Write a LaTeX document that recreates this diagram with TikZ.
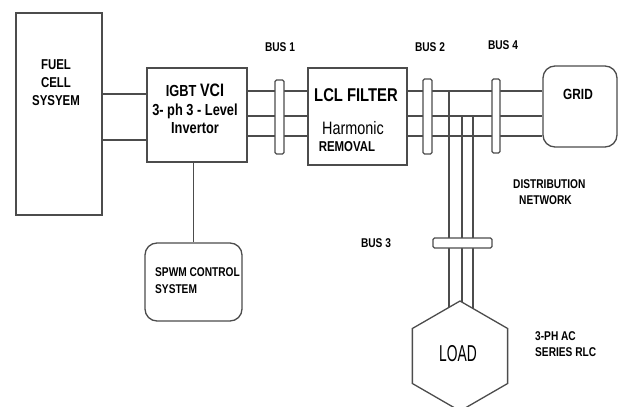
\documentclass[tikz,border=0pt]{standalone}
\usepackage{fontspec}
\setmainfont{Liberation Sans}[FakeStretch=0.8]
\newfontfamily\loadfont{Liberation Sans}[FakeStretch=0.6]
\usetikzlibrary{shapes.geometric,backgrounds}

\begin{document}
\begin{tikzpicture}[x=1pt, y=-1pt,
    box/.style={draw=black!70, line width=1.3pt, inner sep=0pt},
    rbox/.style={box, rounded corners=12pt},
    busbar/.style={draw=black!70, line width=1.1pt, fill=white, rounded corners=1.5pt, inner sep=0pt},
    wire/.style={draw=black!70, line width=1.2pt},
    lbl/.style={font=\bfseries\fontsize{12.7}{16}\selectfont, inner sep=0pt}]
            \useasboundingbox (0,0) rectangle (619,407);
            % blocks
            \node[box, minimum width=86pt, minimum height=202pt] (fuel) at (59,114) {};
            \node[align=center, font=\bfseries\fontsize{14.3}{18}\selectfont] (fueltxt) at (56,83) {FUEL\\CELL\\SYSYEM};
            \node[box, minimum width=100pt, minimum height=94pt] (igbt) at (197,115) {};
            \node[align=center, font=\bfseries\fontsize{16}{18.5}\selectfont] (igbttxt) at (195,109) {IGBT {\fontsize{18}{18.5}\selectfont VCI}\\3- ph 3 - Level\\Invertor};
            \node[box, minimum width=99pt, minimum height=97pt] (lcl) at (357.5,116.5) {};
            \node[font=\bfseries\fontsize{18.5}{20}\selectfont] (lcltxt) at (356,95) {LCL FILTER};
            \node[font=\fontsize{18}{20}\selectfont] (harm) at (353,128) {Harmonic};
            \node[font=\bfseries\fontsize{14.3}{16}\selectfont] (remov) at (347,147) {REMOVAL};
            \node[rbox, minimum width=74pt, minimum height=81pt] (grid) at (580,106.5) {};
            \node[font=\bfseries\fontsize{14.8}{16}\selectfont] (gridtxt) at (578,94) {GRID};
            \node[rbox, minimum width=97pt, minimum height=78pt] (spwm) at (193.5,282) {};
            \node[lbl, align=left, anchor=west, font=\bfseries\fontsize{12.7}{17}\selectfont] (spwmtxt) at (155,281) {SPWM CONTROL\\SYSTEM};
            \node[box, fill=white, regular polygon, regular polygon sides=6, shape border rotate=30, minimum size=110pt] (load) at (460,356) {};
            \node[font=\loadfont\fontsize{23}{25}\selectfont] (loadtxt) at (458,354) {LOAD};
            % buses
            \node[busbar, minimum width=9pt, minimum height=74pt] (bus1) at (279.5,117) {};
            \node[busbar, minimum width=9pt, minimum height=75pt] (bus2) at (427.5,116.5) {};
            \node[busbar, minimum width=8pt, minimum height=74pt] (bus4) at (496,116) {};
            \node[busbar, minimum width=59pt, minimum height=10pt] (bus3) at (462.5,243) {};
            \node[lbl] (bus1lbl) at (280,47) {BUS 1};
            \node[lbl] (bus2lbl) at (430,47) {BUS 2};
            \node[lbl] (bus4lbl) at (503,45) {BUS 4};
            \node[lbl] (bus3lbl) at (376,243) {BUS 3};
            \node[lbl, align=left, anchor=west] (distlbl) at (513,192) {DISTRIBUTION\\\hspace*{6pt}NETWORK};
            \node[lbl, align=left, anchor=west] (rlclbl) at (535,344) {3-PH AC\\SERIES RLC};
            % wires
            \coordinate (tapa) at (449,91);
            \coordinate (tapb) at (462,116);
            \coordinate (tapc) at (473,116);
            \begin{scope}[on background layer]
            \foreach \y in {94,140}{
                \draw[wire] (fuel.east |- 0,\y) -- (igbt.west |- 0,\y);
            }
            \foreach \y in {91,116,136}{
                \draw[wire] (igbt.east |- 0,\y) -- (lcl.west |- 0,\y);
                \draw[wire] (lcl.east |- 0,\y) -- (grid.west |- 0,\y);
            }
            \foreach \t in {tapa,tapb,tapc}{
                \draw[wire] (\t) -- (\t |- load.center);
            }
            \draw[wire] (igbt.south -| spwm.north) -- (spwm.north);
            \end{scope}
\end{tikzpicture}
\end{document}
